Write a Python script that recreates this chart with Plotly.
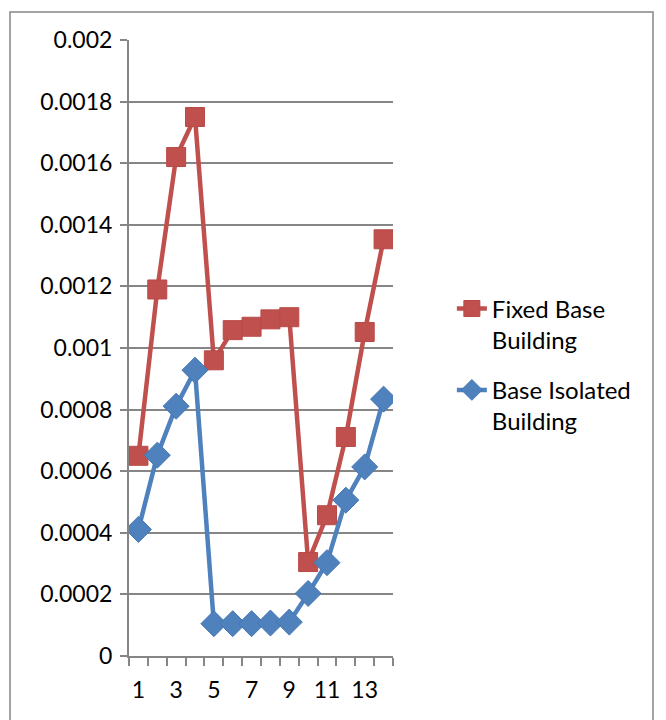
import plotly.graph_objects as go

stories = list(range(1, 15))
fixed_base = [0.00065, 0.00119, 0.00162, 0.00175, 0.00096, 0.001058, 0.001069, 0.001093,
              0.0011, 0.000305, 0.000457, 0.000711, 0.001052, 0.001353]
base_isolated = [0.000411, 0.000652, 0.000811, 0.000928, 0.000105, 0.000105, 0.000105, 0.000107,
                 0.00011, 0.000203, 0.000303, 0.000506, 0.000614, 0.000834]
y_tick_vals = [0, 0.0002, 0.0004, 0.0006, 0.0008, 0.001, 0.0012, 0.0014, 0.0016, 0.0018, 0.002]
y_tick_text = ["0", "0.0002", "0.0004", "0.0006", "0.0008", "0.001", "0.0012", "0.0014",
               "0.0016", "0.0018", "0.002"]
x_tick_vals = [1, 3, 5, 7, 9, 11, 13]
x_tick_text = ["1", "3", "5", "7", "9", "11", "13"]

RED = "#C0504D"
BLUE = "#4F81BD"
GRID = "#868686"
FONT = "Lato"

fig = go.Figure()
fig.add_trace(go.Scatter(
    x=stories, y=fixed_base, mode="lines+markers", name="Fixed Base<br>Building",
    legendgroup="a",
    line=dict(color=RED, width=4.5),
    marker=dict(symbol="square", size=19, color=RED, line=dict(color="#B84A47", width=1)),
))
fig.add_trace(go.Scatter(
    x=stories, y=base_isolated, mode="lines+markers", name="Base Isolated<br>Building",
    legendgroup="b",
    line=dict(color=BLUE, width=4.5),
    marker=dict(symbol="diamond", size=20, color=BLUE, line=dict(color="#4677B3", width=1)),
))

# page renders with an 8px body offset; compensate in margins
OFF = 8
L, R, T, B = 129 - OFF, 273 + OFF, 40 - OFF, 64 + OFF
fig.update_layout(
    width=666, height=720,
    margin=dict(l=L, r=R, t=T, b=B, pad=0),
    paper_bgcolor="white", plot_bgcolor="white",
    font=dict(family=FONT, size=23, color="black"),
    showlegend=True,
    legend=dict(x=1.223, xanchor="left", y=0.6, yanchor="top", valign="top",
                traceorder="grouped",
                font=dict(family=FONT, size=24, color="black"),
                tracegroupgap=16, bgcolor="rgba(0,0,0,0)"),
    xaxis=dict(
        range=[0.5, 14.5], tickmode="array", tickvals=x_tick_vals, ticktext=x_tick_text,
        showgrid=False, zeroline=False, showline=True, linecolor=GRID, linewidth=2,
        ticks="", ticklabelstandoff=12,
        minor=dict(tick0=0.5, dtick=1, ticks="outside", ticklen=8, tickcolor=GRID,
                   tickwidth=2, showgrid=False),
        tickfont=dict(family=FONT, size=23, color="black"),
    ),
    yaxis=dict(
        range=[0, 0.002], tickmode="array", tickvals=y_tick_vals, ticktext=y_tick_text,
        showgrid=True, gridcolor=GRID, gridwidth=2, zeroline=False,
        showline=True, linecolor=GRID, linewidth=2,
        ticks="outside", ticklen=7, tickcolor=GRID, tickwidth=2,
        ticklabelstandoff=3,
        tickfont=dict(family=FONT, size=23, color="black"),
    ),
)

pw = 666 - L - R
ph = 720 - T - B
# outer chart border (pixel positions as seen on the page)
bx0, bx1, by_top, by_bot = 10 - OFF, 653 - OFF, 12 - OFF, 760
fig.add_shape(type="rect", xref="paper", yref="paper",
              x0=(bx0 - L) / pw, x1=(bx1 - L) / pw,
              y0=(720 - B - by_bot) / ph, y1=(720 - B - by_top) / ph,
              line=dict(color=GRID, width=1.5), fillcolor="rgba(0,0,0,0)", layer="below")

fig.write_html("out.html")
